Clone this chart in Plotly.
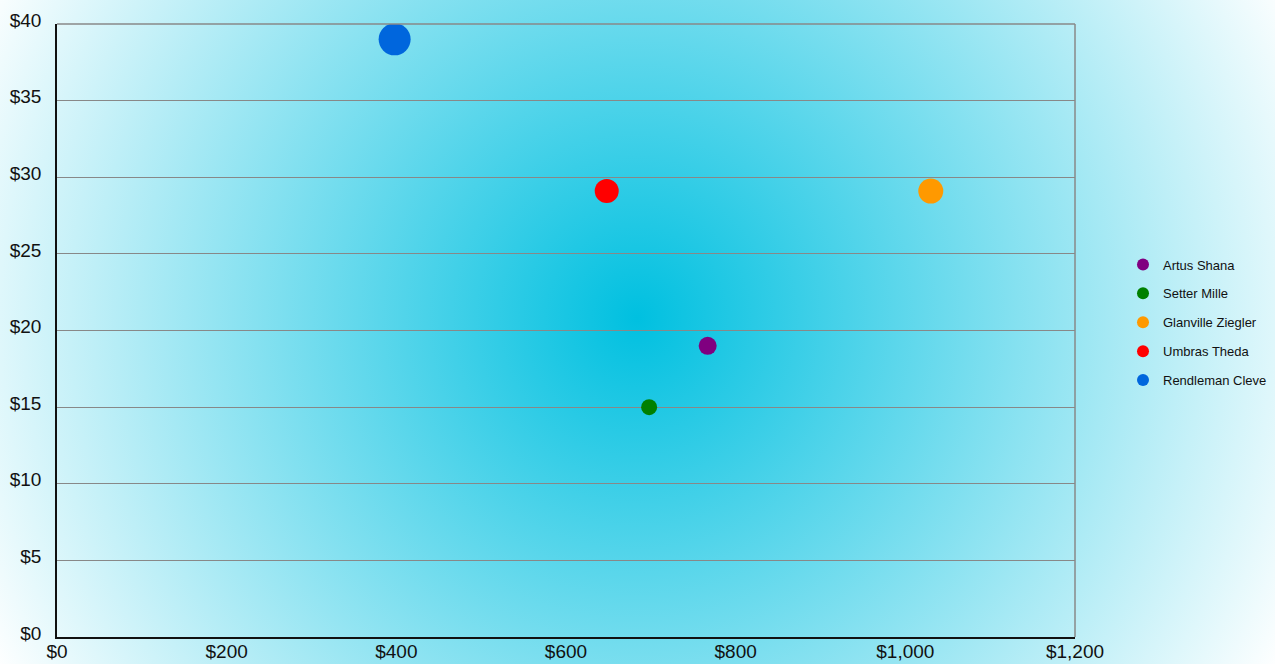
import plotly.graph_objects as go
import urllib.parse

names = ["Artus Shana", "Setter Mille", "Glanville Ziegler", "Umbras Theda", "Rendleman Cleve"]
sales = [767, 698, 1030, 648, 398]
prices = [19, 15, 29.1, 29.1, 39]
volume = [18, 16, 25, 24, 32]
colors = ["#800080", "#008000", "#FF9900", "#FF0000", "#0066DD"]

x_ticks = [0, 200, 400, 600, 800, 1000, 1200]
x_labels = ["$0", "$200", "$400", "$600", "$800", "$1,000", "$1,200"]
y_ticks = [0, 5, 10, 15, 20, 25, 30, 35, 40]
y_labels = ["$0", "$5", "$10", "$15", "$20", "$25", "$30", "$35", "$40"]

W, H = 1275, 664
L, R, T, B = 57, 200, 24, 27
pw, ph = W - L - R, H - T - B

svg = (
    f"<svg xmlns='http://www.w3.org/2000/svg' width='{W}' height='{H}' viewBox='0 0 {W} {H}' preserveAspectRatio='none'>"
    "<defs><radialGradient id='g' gradientUnits='userSpaceOnUse' cx='637' cy='318' r='730'>"
    "<stop offset='0' stop-color='#00C0E0'/><stop offset='1' stop-color='#FFFFFF'/>"
    "</radialGradient></defs>"
    f"<rect x='0' y='0' width='{W}' height='{H}' fill='url(#g)'/></svg>"
)
src = "data:image/svg+xml;charset=utf-8," + urllib.parse.quote(svg)

fig = go.Figure()
for i, n in enumerate(names):
    fig.add_trace(go.Scatter(
        x=[sales[i]], y=[prices[i]], mode="markers", name=n,
        legendgroup=n,
        marker=dict(size=[volume[i]], sizemode="diameter", color=colors[i], line=dict(width=0), opacity=1),
    ))

fig.update_layout(
    width=W, height=H, autosize=False,
    margin=dict(l=L, r=R, t=T, b=B, pad=0, autoexpand=False),
    paper_bgcolor="rgba(0,0,0,0)",
    plot_bgcolor="rgba(0,0,0,0)",
    font=dict(family="Liberation Sans, Arial, sans-serif", color="#111111"),
    showlegend=True,
    legend=dict(
        x=(1123 - L) / pw, y=0.5 + 8 / ph, xanchor="left", yanchor="middle",
        font=dict(size=13, color="#111111"), itemsizing="constant",
        tracegroupgap=9, bgcolor="rgba(0,0,0,0)", itemwidth=30,
    ),
    images=[dict(
        source=src, xref="paper", yref="paper",
        x=-L / pw, y=1 + T / ph, sizex=W / pw, sizey=H / ph,
        xanchor="left", yanchor="top", sizing="stretch", layer="below",
    )],
    shapes=[
        dict(type="line", xref="paper", yref="paper", x0=1, x1=1, y0=0, y1=1,
             line=dict(color="#888888", width=1.5)),
        dict(type="line", xref="paper", yref="paper", x0=0, x1=1, y0=1, y1=1,
             line=dict(color="#888888", width=1.5)),
    ],
    xaxis=dict(
        range=[0, 1200], tickvals=x_ticks, ticktext=x_labels, automargin=False,
        showgrid=False, zeroline=False, showline=True, linecolor="#111111", linewidth=1.5,
        ticks="", tickfont=dict(size=19), ticklabelstandoff=-4, fixedrange=True,
    ),
    yaxis=dict(
        range=[0, 40], tickvals=y_ticks, ticktext=y_labels, automargin=False,
        showgrid=True, gridcolor="#888888", gridwidth=1.2, zeroline=False,
        showline=True, linecolor="#111111", linewidth=1.5,
        ticks="outside", ticklen=10, tickcolor="rgba(0,0,0,0)", tickfont=dict(size=19),
        ticklabelshift=-4, fixedrange=True,
    ),
)

fig.write_html(
    "out.html",
    config={"displayModeBar": False, "responsive": False},
    post_script="document.body.style.margin='0';document.body.style.padding='0';"
                "document.documentElement.style.overflow='hidden';document.body.style.overflow='hidden';",
)
